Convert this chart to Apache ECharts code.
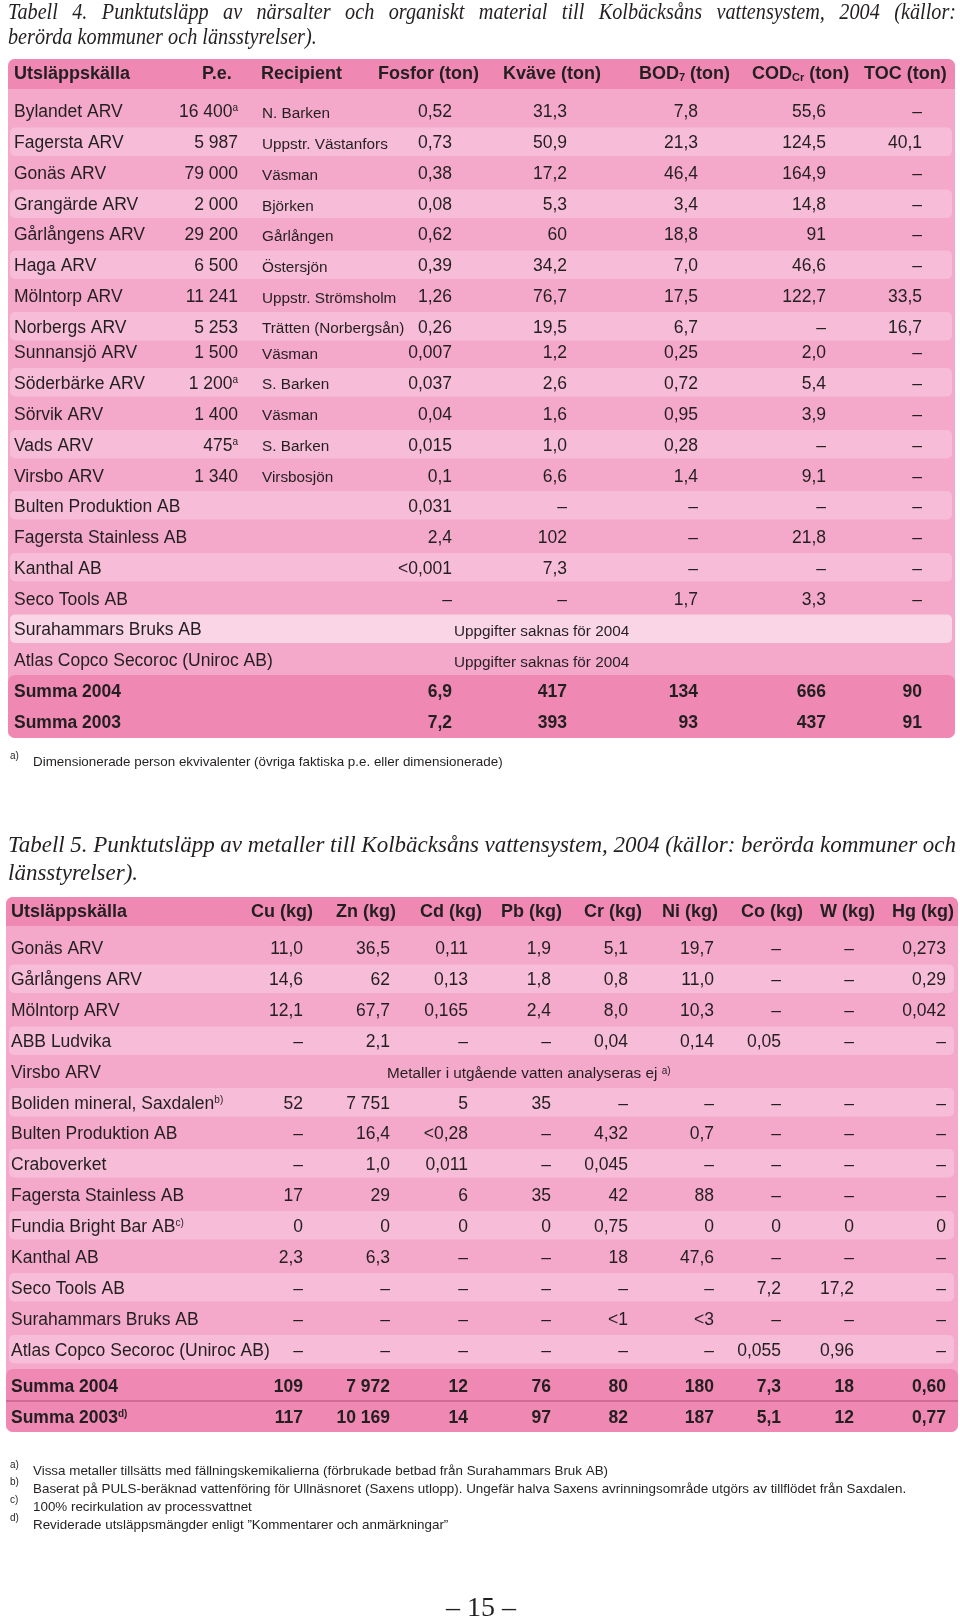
<!DOCTYPE html>
<html>
<head>
<meta charset="utf-8">
<script src="https://cdn.jsdelivr.net/npm/echarts@6/dist/echarts.min.js"></script>
<style>
html,body{margin:0;padding:0;background:#fff}
#chart{width:960px;height:1618px}
</style>
</head>
<body>
<div id="chart"></div>
<script>
// ---- Tabell 4 data ----
const t4Title = [
  'Tabell 4. Punktutsläpp av närsalter och organiskt material till Kolbäcksåns vattensystem, 2004 (källor:',
  'berörda kommuner och länsstyrelser).'
]
const t4Header = ['Utsläppskälla', 'P.e.', 'Recipient', 'Fosfor (ton)', 'Kväve (ton)', 'BOD{sub|7} (ton)', 'COD{sub|Cr} (ton)', 'TOC (ton)']
const t4Source = ['Bylandet ARV', 'Fagersta ARV', 'Gonäs ARV', 'Grangärde ARV', 'Gårlångens ARV', 'Haga ARV', 'Mölntorp ARV',
  'Norbergs ARV', 'Sunnansjö ARV', 'Söderbärke ARV', 'Sörvik ARV', 'Vads ARV', 'Virsbo ARV', 'Bulten Produktion AB',
  'Fagersta Stainless AB', 'Kanthal AB', 'Seco Tools AB', 'Surahammars Bruks AB', 'Atlas Copco Secoroc (Uniroc AB)',
  'Summa 2004', 'Summa 2003']
const t4Pe = ['16 400{sup|a}', '5 987', '79 000', '2 000', '29 200', '6 500', '11 241', '5 253', '1 500', '1 200{sup|a}',
  '1 400', '475{sup|a}', '1 340', '', '', '', '', '', '', '', '']
const t4Recipient = ['N. Barken', 'Uppstr. Västanfors', 'Väsman', 'Björken', 'Gårlången', 'Östersjön', 'Uppstr. Strömsholm',
  'Trätten (Norbergsån)', 'Väsman', 'S. Barken', 'Väsman', 'S. Barken', 'Virsbosjön', '', '', '', '', '', '', '', '']
const t4Fosfor = ['0,52', '0,73', '0,38', '0,08', '0,62', '0,39', '1,26', '0,26', '0,007', '0,037', '0,04', '0,015', '0,1',
  '0,031', '2,4', '<0,001', '–', '', '', '6,9', '7,2']
const t4Kvave = ['31,3', '50,9', '17,2', '5,3', '60', '34,2', '76,7', '19,5', '1,2', '2,6', '1,6', '1,0', '6,6',
  '–', '102', '7,3', '–', '', '', '417', '393']
const t4Bod = ['7,8', '21,3', '46,4', '3,4', '18,8', '7,0', '17,5', '6,7', '0,25', '0,72', '0,95', '0,28', '1,4',
  '–', '–', '–', '1,7', '', '', '134', '93']
const t4Cod = ['55,6', '124,5', '164,9', '14,8', '91', '46,6', '122,7', '–', '2,0', '5,4', '3,9', '–', '9,1',
  '–', '21,8', '–', '3,3', '', '', '666', '437']
const t4Toc = ['–', '40,1', '–', '–', '–', '–', '33,5', '16,7', '–', '–', '–', '–', '–',
  '–', '–', '–', '–', '', '', '90', '91']
const t4Note = ['', '', '', '', '', '', '', '', '', '', '', '', '', '', '', '', '',
  'Uppgifter saknas för 2004', 'Uppgifter saknas för 2004', '', '']
const t4Foot = ['Dimensionerade person ekvivalenter (övriga faktiska p.e. eller dimensionerade)']

// ---- Tabell 5 data ----
const t5Title = [
  'Tabell 5. Punktutsläpp av metaller till Kolbäcksåns vattensystem, 2004 (källor: berörda kommuner och',
  'länsstyrelser).'
]
const t5Header = ['Utsläppskälla', 'Cu (kg)', 'Zn (kg)', 'Cd (kg)', 'Pb (kg)', 'Cr (kg)', 'Ni (kg)', 'Co (kg)', 'W (kg)', 'Hg (kg)']
const t5Source = ['Gonäs ARV', 'Gårlångens ARV', 'Mölntorp ARV', 'ABB Ludvika', 'Virsbo ARV', 'Boliden mineral, Saxdalen{sup|b)}',
  'Bulten Produktion AB', 'Craboverket', 'Fagersta Stainless AB', 'Fundia Bright Bar AB{sup|c)}', 'Kanthal AB', 'Seco Tools AB',
  'Surahammars Bruks AB', 'Atlas Copco Secoroc (Uniroc AB)', 'Summa 2004', 'Summa 2003{sup|d)}']
const t5Cu = ['11,0', '14,6', '12,1', '–', '', '52', '–', '–', '17', '0', '2,3', '–', '–', '–', '109', '117']
const t5Zn = ['36,5', '62', '67,7', '2,1', '', '7 751', '16,4', '1,0', '29', '0', '6,3', '–', '–', '–', '7 972', '10 169']
const t5Cd = ['0,11', '0,13', '0,165', '–', '', '5', '<0,28', '0,011', '6', '0', '–', '–', '–', '–', '12', '14']
const t5Pb = ['1,9', '1,8', '2,4', '–', '', '35', '–', '–', '35', '0', '–', '–', '–', '–', '76', '97']
const t5Cr = ['5,1', '0,8', '8,0', '0,04', '', '–', '4,32', '0,045', '42', '0,75', '18', '–', '<1', '–', '80', '82']
const t5Ni = ['19,7', '11,0', '10,3', '0,14', '', '–', '0,7', '–', '88', '0', '47,6', '–', '<3', '–', '180', '187']
const t5Co = ['–', '–', '–', '0,05', '', '–', '–', '–', '–', '0', '–', '7,2', '–', '0,055', '7,3', '5,1']
const t5W = ['–', '–', '–', '–', '', '–', '–', '–', '–', '0', '–', '17,2', '–', '0,96', '18', '12']
const t5Hg = ['0,273', '0,29', '0,042', '–', '', '–', '–', '–', '–', '0', '–', '–', '–', '–', '0,60', '0,77']
const t5Note = ['', '', '', '', 'Metaller i utgående vatten analyseras ej {sup|a)}', '', '', '', '', '', '', '', '', '', '', '']
const t5FootMark = ['a)', 'b)', 'c)', 'd)']
const t5Foot = [
  'Vissa metaller tillsätts med fällningskemikalierna (förbrukade betbad från Surahammars Bruk AB)',
  'Baserat på PULS-beräknad vattenföring för Ullnäsnoret (Saxens utlopp). Ungefär halva Saxens avrinningsområde utgörs av tillflödet från Saxdalen.',
  '100% recirkulation av processvattnet',
  'Reviderade utsläppsmängder enligt ”Kommentarer och anmärkningar”'
]
const pageNumber = '– 15 –'

// ---- layout (pixel units on the hidden axes) ----
const t4RowY = [110.5, 141.5, 172.5, 203.5, 233.5, 264.5, 295.5, 326, 351.5, 382, 413, 444, 475, 505, 536, 567, 598, 628.5, 659.5, 690.5, 721.5]
const t4HeadY = 72.5
const t4HeadX = [14, 202, 261, 378, 503, 639, 752, 864]
const t4ColX = {source: 14, pe: 238, recipient: 262, fosfor: 452, kvave: 567, bod: 698, cod: 826, toc: 922, note: 454}
const t4Light = [1, 3, 5, 7, 9, 11, 13, 15]
const t4Pale = [17]
const t5RowY = [947.5, 978.5, 1009.5, 1040.5, 1071, 1102, 1132.5, 1163, 1194, 1225, 1256, 1287, 1318, 1349, 1385.5, 1416.5]
const t5HeadY = 910.5
const t5HeadX = [11, 251, 336, 420, 501, 584, 662, 741, 820, 892]
const t5ColRight = [303, 390, 468, 551, 628, 714, 781, 854, 946]
const t5Light = [1, 3, 5, 7, 9, 11, 13]
const textDy = 1.8
const t4TitleScale = 0.88

const C = {
  head: '#ef89b4', dark: '#f4a8ca', light: '#f7bcd7', pale: '#fad5e6', sum: '#ef89b4', text: '#231f20', rule: '#b24d79'
}
const SANS = '"Liberation Sans", Arial, sans-serif'
const SERIF = '"Liberation Serif", "Times New Roman", serif'

// ---- bands: [x0, y0, x1, y1, color, radius] ----
const bands = []
bands.push([8, 59, 955, 738, C.dark, 7])
bands.push([8, 59, 955, 89, C.head, [7, 7, 0, 0]])
t4Light.forEach(i => bands.push([10, t4RowY[i] - 14, 952, t4RowY[i] + 14.5, C.light, 5]))
t4Pale.forEach(i => bands.push([10, t4RowY[i] - 14, 952, t4RowY[i] + 14.5, C.pale, 5]))
bands.push([8, 675, 955, 738, C.sum, 7])
bands.push([6, 897, 958, 1432, C.dark, 7])
bands.push([6, 897, 958, 926, C.head, [7, 7, 0, 0]])
t5Light.forEach(i => bands.push([9, t5RowY[i] - 14, 954, t5RowY[i] + 14.5, C.light, 5]))
bands.push([6, 1369, 958, 1432, C.sum, 7])
bands.push([6, 1400.5, 958, 1401.5, C.rule, 0])

// ---- text cells ----
const cells = []
const st = {
  title: {fontFamily: SERIF, fontStyle: 'italic', fontSize: 23},
  head: {fontFamily: SANS, fontWeight: 'bold', fontSize: 18},
  body: {fontFamily: SANS, fontSize: 17.5},
  small: {fontFamily: SANS, fontSize: 15.3},
  sum: {fontFamily: SANS, fontWeight: 'bold', fontSize: 17.5},
  foot: {fontFamily: SANS, fontSize: 13.4},
  mark: {fontFamily: SANS, fontSize: 10},
  page: {fontFamily: SERIF, fontSize: 28}
}
function put(x, y, text, kind, align, sx) {
  if (text === '') return
  cells.push({x, y: kind === 'title' ? y : y + textDy, text, kind, align: align || 'left', sx: sx || 1})
}

// justified title line: words spread between left and right edge
const measure = document.createElement('canvas').getContext('2d')
measure.font = 'italic 23px "Liberation Serif"'
function justify(line, x0, x1, y, sx) {
  const words = line.split(' ')
  const widths = words.map(w => measure.measureText(w).width * sx)
  const gap = (x1 - x0 - widths.reduce((a, b) => a + b, 0)) / (words.length - 1)
  let x = x0
  words.forEach((w, i) => {
    put(x, y, w, 'title', 'left', sx)
    x += widths[i] + gap
  })
}

justify(t4Title[0], 8, 956, 13, t4TitleScale)
put(8, 38, t4Title[1], 'title', 'left', t4TitleScale)
t4Header.forEach((t, i) => put(t4HeadX[i], t4HeadY, t, 'head'))
t4Source.forEach((t, i) => {
  const y = t4RowY[i]
  const sum = i >= 19
  put(t4ColX.source, y, t, sum ? 'sum' : 'body')
  put(t4ColX.pe, y, t4Pe[i], 'body', 'right')
  put(t4ColX.recipient, y + 1, t4Recipient[i], 'small')
  put(t4ColX.fosfor, y, t4Fosfor[i], sum ? 'sum' : 'body', 'right')
  put(t4ColX.kvave, y, t4Kvave[i], sum ? 'sum' : 'body', 'right')
  put(t4ColX.bod, y, t4Bod[i], sum ? 'sum' : 'body', 'right')
  put(t4ColX.cod, y, t4Cod[i], sum ? 'sum' : 'body', 'right')
  put(t4ColX.toc, y, t4Toc[i], sum ? 'sum' : 'body', 'right')
  put(t4ColX.note, y + 1, t4Note[i], 'small')
})
put(10, 754, 'a)', 'mark')
put(33, 761, t4Foot[0], 'foot')

justify(t5Title[0], 8, 956, 846, 1)
put(8, 874, t5Title[1], 'title')
t5Header.forEach((t, i) => put(t5HeadX[i], t5HeadY, t, 'head'))
const t5Cols = [t5Cu, t5Zn, t5Cd, t5Pb, t5Cr, t5Ni, t5Co, t5W, t5Hg]
t5Source.forEach((t, i) => {
  const y = t5RowY[i]
  const sum = i >= 14
  put(11, y, t, sum ? 'sum' : 'body')
  t5Cols.forEach((col, j) => put(t5ColRight[j], y, col[i], sum ? 'sum' : 'body', 'right'))
  put(387, y + 1, t5Note[i], 'small')
})
t5FootMark.forEach((t, i) => put(10, 1463 + i * 17.8, t, 'mark'))
t5Foot.forEach((t, i) => put(33, 1470 + i * 17.8, t, 'foot'))
put(481, 1607, pageNumber, 'page', 'center')

const chart = echarts.init(document.getElementById('chart'), null, {renderer: 'canvas'})
chart.setOption({
  animation: false,
  backgroundColor: '#ffffff',
  grid: {left: 0, right: 0, top: 0, bottom: 0},
  xAxis: {type: 'value', min: 0, max: 960, show: false},
  yAxis: {type: 'value', min: 0, max: 1618, inverse: true, show: false},
  series: [
    {
      type: 'custom',
      clip: false,
      silent: true,
      encode: {x: [0, 2], y: [1, 3]},
      data: bands.map(b => [b[0], b[1], b[2], b[3]]),
      renderItem: (params, api) => {
        const b = bands[params.dataIndex]
        const p0 = api.coord([b[0], b[1]])
        const p1 = api.coord([b[2], b[3]])
        return {
          type: 'rect',
          shape: {x: p0[0], y: p0[1], width: p1[0] - p0[0], height: p1[1] - p0[1], r: b[5]},
          style: {fill: b[4]}
        }
      }
    },
    {
      type: 'custom',
      clip: false,
      silent: true,
      encode: {x: 0, y: 1},
      data: cells.map(c => [c.x, c.y]),
      renderItem: (params, api) => {
        const c = cells[params.dataIndex]
        const p = api.coord([c.x, c.y])
        const s = st[c.kind]
        return {
          type: 'text',
          x: p[0],
          y: p[1],
          scaleX: c.sx,
          style: Object.assign({
            text: c.text,
            fill: C.text,
            align: c.align,
            verticalAlign: 'middle',
            rich: {
              sup: {fontFamily: SANS, fontSize: 10, verticalAlign: 'top', lineHeight: 10, fill: C.text, fontWeight: s.fontWeight || 'normal'},
              sub: {fontFamily: SANS, fontSize: 11, verticalAlign: 'bottom', lineHeight: 11, fill: C.text, fontWeight: 'bold'}
            }
          }, s)
        }
      }
    }
  ]
})
</script>
</body>
</html>
